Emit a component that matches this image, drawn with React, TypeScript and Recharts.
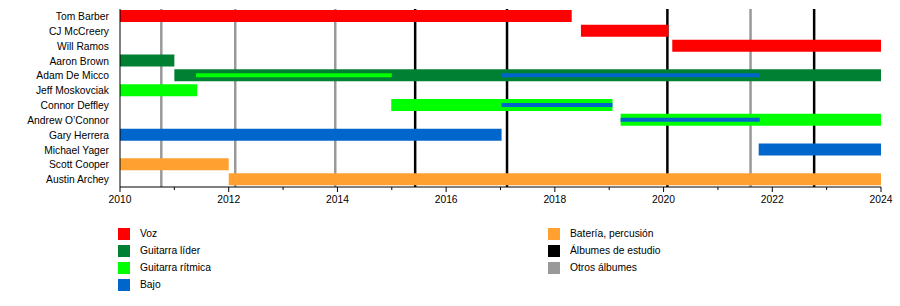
import React from 'react';
import { BarChart, Bar, XAxis, YAxis, Cell, ReferenceLine } from 'recharts';

const members = [
  'Tom Barber', 'CJ McCreery', 'Will Ramos', 'Aaron Brown', 'Adam De Micco', 'Jeff Moskovciak',
  'Connor Deffley', 'Andrew O’Connor', 'Gary Herrera', 'Michael Yager', 'Scott Cooper', 'Austin Archey',
];
const roles = ['voz', 'voz', 'voz', 'lider', 'lider', 'ritmica', 'ritmica', 'ritmica', 'bajo', 'bajo', 'bateria', 'bateria'];
const startYears = [2010, 2018.48, 2020.16, 2010, 2011.0, 2010, 2014.99, 2019.21, 2010, 2021.75, 2010, 2012.0];
const endYears = [2018.31, 2020.09, 2024, 2011.0, 2024, 2011.42, 2019.06, 2024, 2017.02, 2024, 2012.0, 2024];

// second role drawn as a thin stripe inside the main bar
const rhythmStripe: ([number, number] | null)[] = [null, null, null, null, [2011.4, 2015.0], null, null, null, null, null, null, null];
const bassStripe: ([number, number] | null)[] = [null, null, null, null, [2017.02, 2021.77], null, [2017.02, 2019.06], [2019.21, 2021.77], null, null, null, null];

const studioAlbums = [2015.43, 2017.12, 2020.07, 2022.77];
const otherAlbums = [2010.76, 2012.12, 2013.96, 2021.6];

const years = [2010, 2011, 2012, 2013, 2014, 2015, 2016, 2017, 2018, 2019, 2020, 2021, 2022, 2023, 2024];

const COLORS: Record<string, string> = {
  voz: '#ff0000',
  lider: '#008033',
  ritmica: '#00ff00',
  bajo: '#0066cc',
  bateria: '#ffa030',
  estudio: '#000000',
  otros: '#999999',
};

const legendLeft = [
  { label: 'Voz', color: COLORS.voz },
  { label: 'Guitarra líder', color: COLORS.lider },
  { label: 'Guitarra rítmica', color: COLORS.ritmica },
  { label: 'Bajo', color: COLORS.bajo },
];
const legendRight = [
  { label: 'Batería, percusión', color: COLORS.bateria },
  { label: 'Álbumes de estudio', color: COLORS.estudio },
  { label: 'Otros álbumes', color: COLORS.otros },
];

const FONT = '"Liberation Sans", Arial, sans-serif';

const data = members.map((name, i) => ({
  name,
  main: [startYears[i], endYears[i]],
  rhythm: rhythmStripe[i],
  bass: bassStripe[i],
}));

const YearTick = (props: any) => {
  const { x, y, payload } = props;
  const major = payload.value % 2 === 0;
  return (
    <g>
      <line x1={x} x2={x} y1={y} y2={y + (major ? 5 : 3)} stroke="#000" />
      {major && (
        <text x={x} y={y + 16} textAnchor="middle" fontSize={10.3} fontFamily={FONT} fill="#000">
          {payload.value}
        </text>
      )}
    </g>
  );
};

const NameTick = (props: any) => {
  const { x, y, payload } = props;
  return (
    <text x={x} y={y} dy={3.6} textAnchor="end" fontSize={10.3} fontFamily={FONT} fill="#000">
      {payload.value}
    </text>
  );
};

const LegendColumn = ({ items, left }: { items: { label: string; color: string }[]; left: number }) => (
  <>
    {items.map((it, i) => (
      <div key={it.label} style={{ position: 'absolute', left, top: 228 + i * 17, height: 12, display: 'flex', alignItems: 'center' }}>
        <div style={{ width: 12, height: 12, background: it.color }} />
        <span style={{ marginLeft: 10, fontSize: 10.3, lineHeight: '12px', color: '#000', whiteSpace: 'nowrap' }}>{it.label}</span>
      </div>
    ))}
  </>
);

// back layer: album lines only; front layer: bars + axes (so lines sit behind the bars)
const Timeline = ({ layer }: { layer: 'back' | 'front' }) => {
  const front = layer === 'front';
  return (
    <BarChart
      width={900}
      height={306}
      data={data}
      layout="vertical"
      margin={{ top: 9, right: 19, bottom: 89, left: 0 }}
    >
      <XAxis
        type="number"
        domain={[2010, 2024]}
        ticks={years}
        interval={0}
        allowDataOverflow
        tickSize={0}
        tickMargin={0}
        tickLine={false}
        tick={front ? <YearTick /> : false}
        axisLine={front ? { stroke: '#000' } : false}
        height={30}
      />
      <YAxis
        type="category"
        dataKey="name"
        width={120}
        tickLine={false}
        tickSize={0}
        tickMargin={11}
        axisLine={front ? { stroke: '#000' } : false}
        tick={front ? <NameTick /> : false}
        interval={0}
      />
      <YAxis yAxisId="rhythm" type="category" dataKey="name" hide />
      <YAxis yAxisId="bass" type="category" dataKey="name" hide />
      {!front && otherAlbums.map((v) => (
        <ReferenceLine key={'o' + v} x={v} stroke={COLORS.otros} strokeWidth={2.5} />
      ))}
      {!front && studioAlbums.map((v) => (
        <ReferenceLine key={'s' + v} x={v} stroke={COLORS.estudio} strokeWidth={2.5} />
      ))}
      {front && (
        <Bar dataKey="main" barSize={12} isAnimationActive={false}>
          {data.map((d, i) => (
            <Cell key={d.name} fill={COLORS[roles[i]]} />
          ))}
        </Bar>
      )}
      {front && <Bar yAxisId="rhythm" dataKey="rhythm" barSize={4} fill={COLORS.ritmica} isAnimationActive={false} />}
      {front && <Bar yAxisId="bass" dataKey="bass" barSize={4} fill={COLORS.bajo} isAnimationActive={false} />}
    </BarChart>
  );
};

export default function App() {
  return (
    <div style={{ position: 'absolute', left: 0, top: 0, width: 900, height: 306, background: '#fff', fontFamily: FONT }}>
      <div style={{ position: 'absolute', left: 0, top: 0 }}>
        <Timeline layer="back" />
      </div>
      <div style={{ position: 'absolute', left: 0, top: 0 }}>
        <Timeline layer="front" />
      </div>
      <LegendColumn items={legendLeft} left={118} />
      <LegendColumn items={legendRight} left={548} />
    </div>
  );
}
